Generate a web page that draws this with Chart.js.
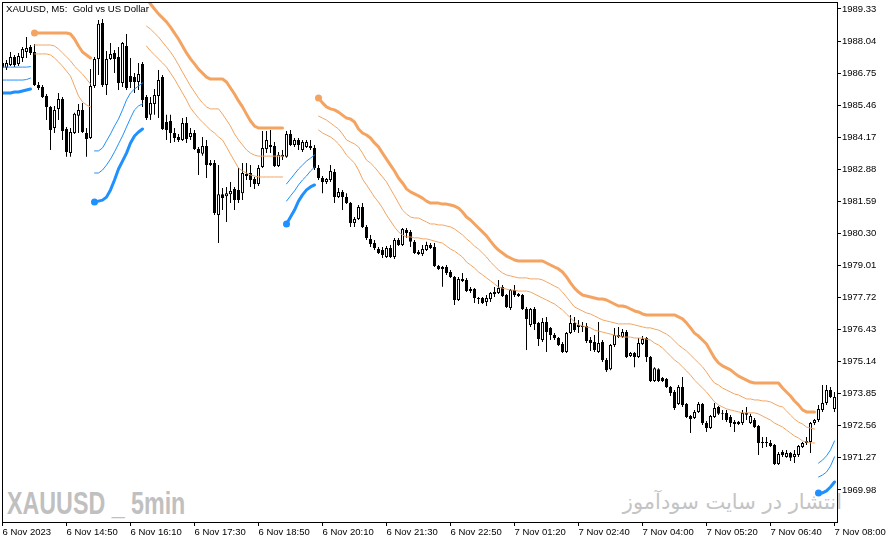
<!DOCTYPE html>
<html lang="en">

<head>
    <meta charset="UTF-8">
    <title>XAUUSD, M5</title>
    <script src="https://cdn.jsdelivr.net/npm/chart.js"></script>
    <style>
        body {
            margin: 0;
            background: #fff;
        }

        #wrap {
            position: relative;
            width: 892px;
            height: 543px;
            overflow: hidden;
        }

        #chart {
            position: absolute;
            left: 0;
            top: 0;
            z-index: 2;
        }

        .caption {
            position: absolute;
            left: 6px;
            top: 3px;
            z-index: 3;
            font: 9.6px/11px 'Liberation Sans', Arial, sans-serif;
            white-space: pre;
            color: #000;
        }

        .mark-en {
            position: absolute;
            left: 7px;
            top: 488px;
            z-index: 1;
            font: bold 31px/32px 'Liberation Sans', Arial, sans-serif;
            color: #c0c0c0;
            white-space: pre;
            transform: scaleX(0.75);
            transform-origin: left top;
        }

        .mark-fa {
            position: absolute;
            right: 50px;
            top: 491px;
            z-index: 1;
            font: 21px/22px 'DejaVu Sans', sans-serif;
            color: #c4c4c4;
            white-space: pre;
        }
    </style>
</head>

<body>
    <div id="wrap">
        <canvas id="chart" width="892" height="543"></canvas>
        <div class="caption">XAUUSD, M5:  Gold vs US Dollar</div>
        <div class="mark-en">XAUUSD _ 5min</div>
        <div class="mark-fa" dir="rtl">انتشار در سایت سودآموز</div>
    </div>

    <script>
        // 5-minute bars, 6 Nov 13:30 .. 7 Nov 08:00
        const open = [
            1987.16, 1986.96, 1987.08, 1987.40, 1987.12, 1987.36, 1987.60, 1987.80, 1987.60, 1986.27,
            1986.19, 1985.83, 1985.39, 1984.54, 1985.31, 1985.71, 1984.50, 1983.54, 1984.34, 1985.03,
            1985.27, 1984.34, 1984.14, 1986.23, 1987.32, 1988.77, 1986.27, 1987.32, 1987.56, 1987.40,
            1986.35, 1987.84, 1986.63, 1986.59, 1986.39, 1987.12, 1985.79, 1985.07, 1985.51, 1985.83,
            1986.59, 1984.78, 1984.82, 1984.34, 1984.18, 1984.06, 1984.74, 1984.18, 1984.34, 1983.70,
            1983.50, 1983.82, 1983.13, 1983.13, 1981.04, 1981.88, 1981.80, 1981.88, 1982.09, 1982.05,
            1981.92, 1982.61, 1982.73, 1982.49, 1982.29, 1982.97, 1983.70, 1983.86, 1983.82, 1983.01,
            1983.46, 1983.38, 1984.30, 1983.86, 1984.06, 1983.66, 1983.78, 1983.82, 1983.74, 1982.93,
            1982.53, 1982.37, 1982.45, 1982.77, 1981.76, 1981.97, 1981.76, 1981.52, 1980.72, 1980.88,
            1981.36, 1980.56, 1980.08, 1979.91, 1979.67, 1979.63, 1979.35, 1979.71, 1979.35, 1980.04,
            1979.83, 1980.44, 1980.36, 1979.96, 1979.55, 1979.47, 1979.63, 1979.83, 1979.75, 1978.99,
            1978.87, 1978.95, 1978.75, 1978.55, 1977.62, 1978.47, 1978.43, 1978.06, 1978.06, 1977.70,
            1977.70, 1977.54, 1977.66, 1977.86, 1977.90, 1978.14, 1977.82, 1977.30, 1978.02, 1977.86,
            1977.82, 1977.26, 1976.62, 1977.26, 1976.70, 1976.01, 1976.74, 1976.49, 1976.21, 1976.09,
            1975.85, 1975.53, 1976.29, 1976.70, 1976.62, 1976.58, 1976.58, 1976.01, 1975.93, 1975.53,
            1975.93, 1975.21, 1974.84, 1975.81, 1976.21, 1976.13, 1976.33, 1975.37, 1975.49, 1975.33,
            1975.85, 1976.09, 1975.33, 1974.36, 1974.84, 1974.48, 1974.44, 1974.12, 1973.92, 1973.44,
            1974.12, 1973.44, 1972.95, 1972.87, 1973.12, 1973.44, 1972.67, 1972.47, 1972.91, 1973.32,
            1973.08, 1973.08, 1972.91, 1972.71, 1972.63, 1972.67, 1973.08, 1972.67, 1972.79, 1972.55,
            1971.91, 1971.91, 1971.87, 1971.79, 1971.02, 1971.51, 1971.31, 1971.47, 1971.31, 1971.39,
            1971.71, 1971.87, 1971.91, 1972.67, 1972.79, 1973.20, 1973.48, 1974.00, 1973.24
        ];
        const high = [
            1987.24, 1987.28, 1987.60, 1987.48, 1987.56, 1987.80, 1988.20, 1987.88, 1987.92, 1986.39,
            1986.27, 1985.91, 1985.43, 1985.43, 1985.95, 1985.79, 1984.58, 1984.54, 1985.15, 1985.51,
            1985.55, 1984.54, 1986.91, 1987.40, 1988.89, 1988.93, 1987.64, 1987.96, 1987.68, 1987.80,
            1988.00, 1988.32, 1987.36, 1986.75, 1987.16, 1987.20, 1985.87, 1985.79, 1986.11, 1986.87,
            1986.67, 1985.07, 1985.07, 1984.54, 1984.30, 1984.94, 1984.98, 1984.54, 1984.46, 1983.78,
            1984.18, 1984.06, 1983.25, 1983.25, 1983.05, 1982.13, 1982.17, 1982.37, 1982.17, 1982.93,
            1983.13, 1983.13, 1983.05, 1982.57, 1983.05, 1984.42, 1984.42, 1984.46, 1983.98, 1983.58,
            1983.66, 1984.42, 1984.46, 1984.14, 1984.14, 1984.06, 1984.06, 1984.06, 1983.86, 1983.05,
            1982.61, 1982.53, 1983.05, 1982.89, 1982.13, 1982.05, 1981.92, 1981.56, 1980.96, 1981.44,
            1981.52, 1980.64, 1980.24, 1980.04, 1979.75, 1979.75, 1979.79, 1979.83, 1980.12, 1980.12,
            1980.52, 1980.52, 1980.44, 1980.04, 1979.63, 1979.83, 1979.96, 1979.91, 1979.91, 1979.03,
            1978.99, 1979.03, 1978.83, 1978.59, 1978.55, 1978.71, 1978.51, 1978.14, 1978.10, 1977.74,
            1977.74, 1977.82, 1977.94, 1978.14, 1978.43, 1978.22, 1977.86, 1978.06, 1978.22, 1977.90,
            1977.86, 1977.34, 1977.30, 1977.34, 1976.74, 1976.90, 1976.94, 1976.53, 1976.29, 1976.13,
            1975.93, 1976.33, 1977.02, 1976.94, 1976.82, 1976.74, 1976.70, 1976.13, 1976.21, 1976.74,
            1976.01, 1975.29, 1975.85, 1976.49, 1976.53, 1976.45, 1976.41, 1975.53, 1975.53, 1976.09,
            1976.17, 1976.13, 1975.37, 1974.92, 1974.88, 1974.52, 1974.48, 1974.16, 1974.00, 1974.20,
            1974.52, 1973.48, 1972.99, 1973.20, 1973.52, 1973.48, 1972.75, 1972.99, 1973.48, 1973.36,
            1973.20, 1973.20, 1972.99, 1972.79, 1972.75, 1973.20, 1973.32, 1973.04, 1972.87, 1972.59,
            1972.11, 1972.11, 1971.99, 1971.83, 1971.51, 1971.59, 1971.59, 1971.51, 1971.59, 1971.79,
            1971.91, 1972.11, 1972.71, 1972.83, 1973.40, 1974.20, 1974.20, 1974.12, 1973.92
        ];
        const low = [
            1986.79, 1986.87, 1987.04, 1987.00, 1987.04, 1987.20, 1987.36, 1987.48, 1986.23, 1986.07,
            1985.75, 1984.86, 1983.66, 1984.34, 1984.86, 1984.06, 1983.38, 1983.38, 1984.30, 1984.34,
            1984.34, 1983.38, 1984.10, 1986.15, 1986.67, 1986.19, 1985.87, 1987.28, 1986.75, 1986.07,
            1986.19, 1986.07, 1986.15, 1985.95, 1986.07, 1985.39, 1984.86, 1984.86, 1985.07, 1984.94,
            1984.46, 1984.06, 1983.94, 1983.98, 1983.98, 1984.02, 1983.94, 1984.06, 1983.66, 1982.65,
            1983.42, 1982.53, 1983.01, 1981.04, 1979.91, 1981.24, 1980.76, 1981.52, 1981.24, 1981.52,
            1981.64, 1982.45, 1982.17, 1982.09, 1982.21, 1982.93, 1983.54, 1983.54, 1982.97, 1982.97,
            1983.25, 1983.34, 1983.82, 1983.78, 1983.66, 1983.58, 1983.74, 1983.66, 1982.85, 1982.45,
            1981.92, 1982.29, 1982.37, 1981.52, 1981.72, 1981.24, 1981.48, 1980.56, 1980.56, 1980.84,
            1980.52, 1980.04, 1979.75, 1979.63, 1979.47, 1979.31, 1979.31, 1979.31, 1979.27, 1979.79,
            1979.79, 1980.12, 1979.75, 1979.47, 1979.43, 1979.39, 1979.59, 1979.67, 1978.95, 1978.83,
            1978.15, 1978.63, 1978.51, 1977.42, 1977.58, 1978.35, 1977.94, 1977.90, 1977.50, 1977.46,
            1977.46, 1977.38, 1977.54, 1977.74, 1977.86, 1977.74, 1977.30, 1977.22, 1977.74, 1977.74,
            1977.22, 1975.61, 1976.54, 1976.41, 1975.77, 1975.93, 1975.53, 1976.01, 1976.01, 1975.77,
            1975.49, 1975.49, 1976.25, 1976.33, 1976.29, 1976.33, 1975.89, 1975.57, 1975.53, 1975.49,
            1975.13, 1974.72, 1974.80, 1975.73, 1976.09, 1976.09, 1975.29, 1975.33, 1974.92, 1975.29,
            1975.81, 1975.13, 1974.32, 1974.32, 1974.32, 1974.32, 1974.08, 1973.76, 1973.20, 1973.40,
            1973.32, 1972.87, 1972.27, 1972.83, 1973.08, 1972.59, 1972.31, 1972.43, 1972.87, 1972.99,
            1972.79, 1972.71, 1972.51, 1972.31, 1972.59, 1972.59, 1972.79, 1972.63, 1972.47, 1971.39,
            1971.67, 1971.71, 1971.71, 1970.98, 1970.98, 1971.31, 1971.27, 1971.14, 1971.06, 1971.31,
            1971.67, 1971.79, 1971.47, 1972.59, 1972.71, 1973.12, 1973.40, 1973.68, 1973.12
        ];
        const close = [
            1986.96, 1987.16, 1987.40, 1987.08, 1987.44, 1987.72, 1987.76, 1987.56, 1986.27, 1986.15,
            1985.79, 1985.39, 1984.46, 1985.27, 1985.71, 1984.42, 1983.58, 1984.38, 1985.11, 1985.27,
            1984.38, 1984.10, 1986.23, 1987.32, 1988.73, 1986.27, 1987.32, 1987.52, 1987.32, 1986.35,
            1987.96, 1986.15, 1986.39, 1986.39, 1986.71, 1985.67, 1984.94, 1985.55, 1985.87, 1986.47,
            1984.50, 1984.46, 1984.34, 1984.14, 1984.06, 1984.74, 1984.10, 1984.34, 1983.70, 1983.54,
            1983.82, 1983.05, 1983.05, 1981.12, 1981.88, 1981.72, 1981.92, 1982.01, 1981.64, 1981.64,
            1982.73, 1982.69, 1982.45, 1982.29, 1982.93, 1983.74, 1984.06, 1983.78, 1983.01, 1983.46,
            1983.38, 1984.30, 1983.86, 1984.06, 1983.86, 1983.98, 1983.98, 1983.74, 1982.93, 1982.53,
            1982.37, 1982.49, 1982.81, 1981.76, 1981.97, 1981.76, 1981.52, 1980.72, 1980.88, 1981.36,
            1980.56, 1980.12, 1979.87, 1979.71, 1979.51, 1979.43, 1979.71, 1979.35, 1980.04, 1979.83,
            1980.48, 1980.32, 1979.96, 1979.51, 1979.47, 1979.67, 1979.83, 1979.71, 1978.99, 1978.87,
            1978.95, 1978.71, 1978.55, 1977.62, 1978.47, 1978.39, 1977.98, 1977.98, 1977.70, 1977.66,
            1977.50, 1977.70, 1977.90, 1977.94, 1978.10, 1977.78, 1977.34, 1978.02, 1977.82, 1977.78,
            1977.26, 1976.86, 1977.26, 1976.66, 1976.05, 1976.74, 1976.33, 1976.21, 1976.09, 1975.81,
            1975.53, 1976.29, 1976.70, 1976.41, 1976.54, 1976.54, 1975.97, 1975.89, 1975.61, 1975.89,
            1975.21, 1974.80, 1975.81, 1976.21, 1976.13, 1976.33, 1975.33, 1975.49, 1975.33, 1975.89,
            1976.05, 1975.33, 1974.36, 1974.88, 1974.36, 1974.36, 1974.12, 1973.88, 1973.28, 1974.12,
            1973.40, 1972.91, 1972.83, 1973.12, 1973.44, 1972.67, 1972.47, 1972.95, 1973.28, 1973.04,
            1973.04, 1972.79, 1972.67, 1972.63, 1972.71, 1973.08, 1973.00, 1972.95, 1972.51, 1971.87,
            1971.87, 1971.87, 1971.75, 1971.02, 1971.43, 1971.39, 1971.47, 1971.27, 1971.43, 1971.75,
            1971.87, 1971.95, 1972.67, 1972.79, 1973.24, 1973.48, 1974.00, 1973.72, 1973.72
        ];

        // trailing stop indicator: thick stop line and two thin bands
        const stopLine = [
            1985.95, 1985.95, 1985.95, 1985.99, 1985.99, 1986.03, 1986.07, 1986.11, 1988.36, 1988.36,
            1988.36, 1988.36, 1988.36, 1988.36, 1988.36, 1988.36, 1988.36, 1988.32, 1988.12, 1987.84,
            1987.60, 1987.48, 1987.36, 1981.56, 1981.60, 1981.64, 1981.76, 1982.05, 1982.45, 1982.89,
            1983.21, 1983.53, 1983.94, 1984.22, 1984.38, 1984.50, 1989.77, 1989.53, 1989.33, 1989.13,
            1988.97, 1988.81, 1988.60, 1988.36, 1988.12, 1987.84, 1987.56, 1987.32, 1987.12, 1986.91,
            1986.75, 1986.59, 1986.51, 1986.51, 1986.51, 1986.51, 1986.39, 1986.15, 1985.91, 1985.63,
            1985.39, 1985.10, 1984.82, 1984.62, 1984.54, 1984.54, 1984.54, 1984.54, 1984.54, 1984.54,
            1984.54, 1980.68, 1980.96, 1981.24, 1981.60, 1981.85, 1982.05, 1982.17, 1982.25, 1985.75,
            1985.55, 1985.39, 1985.31, 1985.27, 1985.18, 1985.06, 1984.94, 1984.90, 1984.78, 1984.50,
            1984.34, 1984.26, 1984.14, 1983.94, 1983.78, 1983.53, 1983.29, 1983.05, 1982.81, 1982.53,
            1982.33, 1982.09, 1981.97, 1981.89, 1981.81, 1981.72, 1981.60, 1981.52, 1981.52, 1981.52,
            1981.48, 1981.48, 1981.44, 1981.40, 1981.32, 1981.16, 1980.96, 1980.84, 1980.68, 1980.52,
            1980.36, 1980.20, 1979.99, 1979.79, 1979.63, 1979.51, 1979.39, 1979.31, 1979.23, 1979.19,
            1979.19, 1979.19, 1979.19, 1979.19, 1979.19, 1979.19, 1979.11, 1979.03, 1978.95, 1978.87,
            1978.75, 1978.55, 1978.31, 1978.10, 1977.94, 1977.82, 1977.78, 1977.74, 1977.70, 1977.66,
            1977.66, 1977.62, 1977.54, 1977.46, 1977.38, 1977.38, 1977.34, 1977.26, 1977.18, 1977.14,
            1977.06, 1977.02, 1977.02, 1977.02, 1977.02, 1977.02, 1977.02, 1977.02, 1977.02, 1976.94,
            1976.86, 1976.70, 1976.50, 1976.29, 1976.17, 1976.01, 1975.85, 1975.57, 1975.29, 1975.09,
            1974.97, 1974.89, 1974.81, 1974.68, 1974.56, 1974.48, 1974.40, 1974.32, 1974.28, 1974.28,
            1974.28, 1974.28, 1974.28, 1974.28, 1974.28, 1974.08, 1973.92, 1973.76, 1973.56, 1973.40,
            1973.20, 1973.12, 1973.12, 1973.12, 1969.86, 1969.86, 1969.94, 1970.10, 1970.30
        ];
        const midLine = [
            1986.47, 1986.47, 1986.47, 1986.47, 1986.47, 1986.47, 1986.49, 1986.55, 1987.88, 1987.88,
            1987.88, 1987.88, 1987.88, 1987.84, 1987.72, 1987.56, 1987.40, 1987.24, 1987.03, 1986.87,
            1986.71, 1986.51, 1986.31, 1982.73, 1982.73, 1982.85, 1983.05, 1983.29, 1983.58, 1983.90,
            1984.22, 1984.58, 1984.94, 1985.27, 1985.43, 1985.51, 1988.64, 1988.52, 1988.36, 1988.20,
            1988.00, 1987.80, 1987.60, 1987.36, 1987.08, 1986.79, 1986.51, 1986.23, 1985.99, 1985.75,
            1985.55, 1985.39, 1985.31, 1985.31, 1985.31, 1985.10, 1984.86, 1984.62, 1984.30, 1984.06,
            1983.86, 1983.66, 1983.53, 1983.45, 1983.41, 1983.41, 1983.41, 1983.41, 1983.41, 1983.41,
            1983.41, 1981.60, 1981.81, 1982.01, 1982.25, 1982.45, 1982.61, 1982.81, 1982.97, 1985.02,
            1984.94, 1984.86, 1984.74, 1984.62, 1984.50, 1984.30, 1984.06, 1983.98, 1983.90, 1983.78,
            1983.53, 1983.25, 1983.13, 1982.97, 1982.77, 1982.57, 1982.37, 1982.09, 1981.81, 1981.52,
            1981.24, 1981.08, 1980.96, 1980.92, 1980.92, 1980.84, 1980.76, 1980.68, 1980.68, 1980.64,
            1980.64, 1980.60, 1980.56, 1980.48, 1980.36, 1980.24, 1980.08, 1979.95, 1979.79, 1979.67,
            1979.51, 1979.35, 1979.15, 1978.99, 1978.83, 1978.71, 1978.63, 1978.59, 1978.55, 1978.51,
            1978.51, 1978.51, 1978.47, 1978.47, 1978.47, 1978.43, 1978.35, 1978.27, 1978.18, 1978.10,
            1977.94, 1977.74, 1977.54, 1977.34, 1977.26, 1977.18, 1977.10, 1977.06, 1976.98, 1976.90,
            1976.82, 1976.78, 1976.74, 1976.70, 1976.66, 1976.66, 1976.66, 1976.66, 1976.62, 1976.58,
            1976.54, 1976.50, 1976.50, 1976.45, 1976.41, 1976.33, 1976.25, 1976.13, 1975.97, 1975.81,
            1975.69, 1975.57, 1975.41, 1975.25, 1975.09, 1974.93, 1974.72, 1974.48, 1974.28, 1974.20,
            1974.08, 1974.00, 1973.92, 1973.84, 1973.80, 1973.72, 1973.64, 1973.64, 1973.60, 1973.60,
            1973.56, 1973.56, 1973.52, 1973.44, 1973.36, 1973.32, 1973.16, 1972.99, 1972.83, 1972.71,
            1972.63, 1972.51, 1972.47, 1972.43, 1970.50, 1970.58, 1970.70, 1970.94, 1971.31
        ];
        const nearLine = [
            1986.99, 1986.99, 1986.99, 1986.99, 1986.99, 1986.99, 1986.99, 1987.01, 1987.52, 1987.52,
            1987.52, 1987.52, 1987.48, 1987.36, 1987.20, 1987.03, 1986.83, 1986.63, 1986.23, 1985.83,
            1985.59, 1985.47, 1985.39, 1983.62, 1983.62, 1983.74, 1984.02, 1984.30, 1984.62, 1984.90,
            1985.27, 1985.67, 1985.95, 1986.11, 1986.23, 1986.35, 1987.84, 1987.64, 1987.48, 1987.32,
            1987.16, 1986.99, 1986.75, 1986.51, 1986.23, 1985.95, 1985.67, 1985.35, 1985.14, 1984.94,
            1984.78, 1984.62, 1984.46, 1984.34, 1984.18, 1984.06, 1983.78, 1983.49, 1983.21, 1982.93,
            1982.81, 1982.73, 1982.65, 1982.61, 1982.57, 1982.57, 1982.57, 1982.57, 1982.57, 1982.57,
            1982.57, 1982.29, 1982.49, 1982.69, 1982.89, 1983.05, 1983.21, 1983.33, 1983.45, 1984.46,
            1984.34, 1984.26, 1984.18, 1984.06, 1983.90, 1983.70, 1983.45, 1983.29, 1983.13, 1982.85,
            1982.49, 1982.25, 1982.01, 1981.76, 1981.56, 1981.32, 1981.04, 1980.80, 1980.56, 1980.36,
            1980.24, 1980.16, 1980.16, 1980.12, 1980.12, 1980.08, 1980.08, 1980.04, 1979.99, 1979.95,
            1979.91, 1979.79, 1979.67, 1979.59, 1979.47, 1979.35, 1979.15, 1979.03, 1978.91, 1978.75,
            1978.63, 1978.51, 1978.39, 1978.27, 1978.14, 1978.10, 1978.06, 1978.02, 1978.02, 1977.98,
            1977.98, 1977.98, 1977.94, 1977.86, 1977.78, 1977.70, 1977.62, 1977.54, 1977.46, 1977.34,
            1977.22, 1977.06, 1976.90, 1976.74, 1976.62, 1976.58, 1976.54, 1976.50, 1976.41, 1976.37,
            1976.33, 1976.29, 1976.25, 1976.21, 1976.17, 1976.13, 1976.13, 1976.13, 1976.09, 1976.09,
            1976.09, 1976.05, 1976.01, 1975.89, 1975.81, 1975.69, 1975.53, 1975.37, 1975.21, 1975.09,
            1974.93, 1974.77, 1974.60, 1974.40, 1974.24, 1974.08, 1973.92, 1973.72, 1973.52, 1973.40,
            1973.32, 1973.24, 1973.20, 1973.16, 1973.12, 1973.08, 1973.08, 1973.08, 1973.08, 1973.04,
            1972.95, 1972.87, 1972.79, 1972.67, 1972.59, 1972.51, 1972.39, 1972.27, 1972.15, 1972.07,
            1971.95, 1971.91, 1971.87, 1971.87, 1971.06, 1971.18, 1971.35, 1971.59, 1971.95
        ];

        // bar index where each trend leg starts
        const trendStart = [0, 8, 23, 36, 71, 79, 204];
        const trendDir = ['up', 'down', 'up', 'down', 'up', 'down', 'up'];

        const tickEvery = 16;
        const tickLabels = [
            '6 Nov 2023', '6 Nov 14:50', '6 Nov 16:10', '6 Nov 17:30', '6 Nov 18:50',
            '6 Nov 20:10', '6 Nov 21:30', '6 Nov 22:50', '7 Nov 01:20', '7 Nov 02:40',
            '7 Nov 04:00', '7 Nov 05:20', '7 Nov 06:40', '7 Nov 08:00'
        ];
        const yTicks = [1969.98, 1971.27, 1972.56, 1973.85, 1975.14, 1976.43, 1977.72, 1979.01,
            1980.30, 1981.59, 1982.88, 1984.17, 1985.46, 1986.75, 1988.04, 1989.33];

        const colorDown = '#F4A460';
        const colorUp = '#1E90FF';
        const axisFont = { family: "'Liberation Sans', Arial, sans-serif", size: 9.5 };

        const idx = open.map((_, i) => i);
        const dirAt = idx.map(i => {
            let d = trendDir[0];
            trendStart.forEach((s, k) => { if (i >= s) d = trendDir[k]; });
            return d;
        });

        function bandSet(values, dir, width, withDot) {
            const color = dir === 'down' ? colorDown : colorUp;
            return {
                type: 'line',
                data: idx.map(i => ({ x: i, y: dirAt[i] === dir ? values[i] : null })),
                borderColor: color,
                backgroundColor: color,
                borderWidth: width,
                borderJoinStyle: 'round',
                borderCapStyle: 'round',
                pointRadius: c => (withDot && c.dataIndex > 0 && trendStart.includes(c.dataIndex)) ? 3.5 : 0,
                pointBorderWidth: 0,
                tension: 0,
                spanGaps: false,
                clip: 0,
                order: 0
            };
        }

        const framePlugin = {
            id: 'frame',
            afterDraw(chart) {
                const { ctx, chartArea: a } = chart;
                ctx.save();
                ctx.strokeStyle = '#000';
                ctx.lineWidth = 1;
                ctx.strokeRect(a.left + 0.5, a.top + 0.5, a.right - a.left, a.bottom - a.top);
                ctx.restore();
            }
        };

        new Chart(document.getElementById('chart'), {
            type: 'bar',
            data: {
                datasets: [
                    bandSet(stopLine, 'down', 3, true),
                    bandSet(midLine, 'down', 1, false),
                    bandSet(nearLine, 'down', 1, false),
                    bandSet(stopLine, 'up', 3, true),
                    bandSet(midLine, 'up', 1, false),
                    bandSet(nearLine, 'up', 1, false),
                    {
                        // candle bodies
                        data: idx.map(i => ({ x: i, y: [open[i], close[i]] })),
                        backgroundColor: c => close[c.dataIndex] >= open[c.dataIndex] ? '#fff' : '#000',
                        borderColor: '#000',
                        borderWidth: 1,
                        borderSkipped: false,
                        barThickness: 3,
                        inflateAmount: 0,
                        grouped: false,
                        order: 1
                    },
                    {
                        // wicks
                        data: idx.map(i => ({ x: i, y: [low[i], high[i]] })),
                        backgroundColor: '#000',
                        borderWidth: 0,
                        barThickness: 1,
                        inflateAmount: 0,
                        grouped: false,
                        order: 2
                    }
                ]
            },
            options: {
                responsive: false,
                animation: false,
                events: [],
                layout: { padding: { left: 2, top: 2, right: 0, bottom: 0 } },
                plugins: { legend: { display: false }, tooltip: { enabled: false } },
                scales: {
                    x: {
                        type: 'linear',
                        min: -0.125,
                        max: 208.625,
                        bounds: 'data',
                        offset: false,
                        grid: { drawOnChartArea: false, tickLength: 4, color: '#000', offset: false },
                        border: { display: false },
                        afterBuildTicks: s => { s.ticks = tickLabels.map((_, k) => ({ value: k * tickEvery })); },
                        afterFit: s => { s.height = 21; s.paddingLeft = 0; s.paddingRight = 0; },
                        ticks: {
                            autoSkip: false,
                            maxRotation: 0,
                            align: 'start',
                            padding: 1,
                            color: '#000',
                            font: axisFont,
                            callback: (v, i) => tickLabels[i]
                        }
                    },
                    y: {
                        position: 'right',
                        min: 1968.69,
                        max: 1989.61,
                        bounds: 'data',
                        grid: { drawOnChartArea: false, tickLength: 4, color: '#000' },
                        border: { display: false },
                        afterBuildTicks: s => { s.ticks = yTicks.map(v => ({ value: v })); },
                        afterFit: s => { s.width = 55; s.paddingTop = 0; s.paddingBottom = 0; },
                        ticks: {
                            autoSkip: false,
                            padding: 1,
                            color: '#000',
                            font: axisFont,
                            callback: v => v.toFixed(2)
                        }
                    }
                }
            },
            plugins: [framePlugin]
        });
    </script>
</body>

</html>
